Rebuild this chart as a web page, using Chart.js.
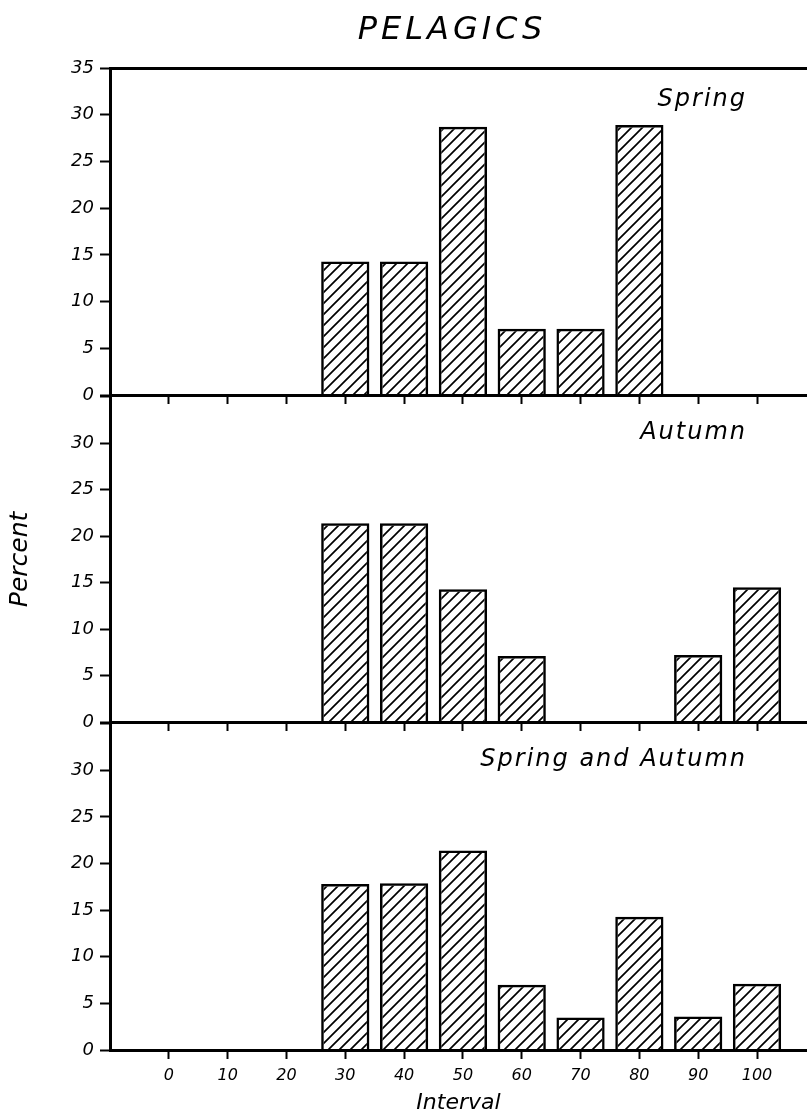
<!DOCTYPE html>
<html>
<head>
<meta charset="utf-8">
<script src="https://cdn.jsdelivr.net/npm/chart.js"></script>
<style>
  html, body { margin: 0; padding: 0; background: #fff; }
  #wrap { position: relative; width: 807px; height: 1119px; }
  canvas { position: absolute; left: 0; }
</style>
</head>
<body>
<div id="wrap">
  <canvas id="c1" width="807" height="415" style="top:0px"></canvas>
  <canvas id="c2" width="807" height="362" style="top:380px"></canvas>
  <canvas id="c3" width="807" height="412" style="top:707px"></canvas>
</div>
<script>
// interval classes (x) and percent per class for each panel
const intervals = [0, 10, 20, 30, 40, 50, 60, 70, 80, 90, 100];
const spring = [0, 0, 0, 14.3, 14.3, 28.7, 7.1, 7.1, 28.9, 0, 0];
const autumn = [0, 0, 0, 21.4, 21.4, 14.3, 7.1, 0, 0, 7.2, 14.5];
const springAutumn = [0, 0, 0, 17.8, 17.9, 21.4, 7.0, 3.5, 14.3, 3.6, 7.1];
const panelNames = ["Spring", "Autumn", "Spring and Autumn"];

const FONT = '"DejaVu Sans", sans-serif';

// diagonal hatch tile
function hatchTile() {
  const s = 11;
  const c = document.createElement("canvas");
  c.width = s; c.height = s;
  const g = c.getContext("2d");
  g.strokeStyle = "#000";
  g.lineWidth = 1.7;
  g.beginPath();
  g.moveTo(-1, s + 1); g.lineTo(s + 1, -1);
  g.moveTo(-1, 1); g.lineTo(1, -1);
  g.moveTo(s - 1, s + 1); g.lineTo(s + 1, s - 1);
  g.stroke();
  return c;
}
const tile = hatchTile();

const panelText = {
  id: "panelText",
  afterDraw(chart, args, o) {
    const { ctx, chartArea } = chart;
    ctx.save();
    ctx.fillStyle = "#000";
    ctx.font = "italic 24px " + FONT;
    ctx.letterSpacing = "2px";
    ctx.textAlign = "right";
    ctx.textBaseline = "alphabetic";
    ctx.fillText(o.text, chartArea.right - 60, chartArea.top + o.dy);
    if (o.title) {
      ctx.font = "italic 32px " + FONT;
      ctx.letterSpacing = "4px";
      ctx.textAlign = "center";
      ctx.textBaseline = "middle";
      ctx.fillText(o.title, 452, 31);
    }
    ctx.restore();
  }
};

function makeChart(id, values, o) {
  const ctx = document.getElementById(id).getContext("2d");
  return new Chart(ctx, {
    type: "bar",
    data: {
      datasets: [{
        data: intervals.map((x, i) => ({ x: x, y: values[i] })),
        backgroundColor: ctx.createPattern(tile, "repeat"),
        borderColor: "#000",
        borderWidth: 2.5,
        barPercentage: 1,
        categoryPercentage: 0.82
      }]
    },
    plugins: [panelText],
    options: {
      responsive: false,
      animation: false,
      devicePixelRatio: 1,
      layout: { padding: { top: o.padTop, left: 0, right: 0, bottom: 0 } },
      plugins: {
        legend: { display: false },
        tooltip: { enabled: false },
        panelText: { text: o.name, dy: o.dy, title: o.title }
      },
      scales: {
        x: {
          type: "linear",
          position: "bottom",
          min: -10,
          max: 108.5,
          offset: false,
          ticks: {
            stepSize: 10,
            includeBounds: false,
            display: o.xLabels,
            autoSkip: false,
            maxRotation: 0,
            padding: 7,
            color: "#000",
            font: { family: FONT, size: 16, style: "italic" },
            callback: (v) => (v < 0 ? "" : String(v))
          },
          grid: {
            offset: false, drawOnChartArea: false, drawTicks: true, tickLength: 9, tickWidth: 2,
            tickColor: (c) => (c.tick && c.tick.value < 0 ? "rgba(0,0,0,0)" : "#000")
          },
          border: { display: true, color: "#000", width: 3 },
          title: {
            display: !!o.xTitle,
            text: o.xTitle || "",
            color: "#000",
            font: { family: FONT, size: 22, style: "italic" },
            padding: { top: 2, bottom: 3 }
          },
          afterFit: (s) => { s.height = o.xHeight; }
        },
        xTop: {
          type: "linear",
          position: "top",
          display: o.topLine,
          min: -10,
          max: 108.5,
          ticks: { display: false },
          grid: { display: false, drawTicks: false },
          border: { display: true, color: "#000", width: 3 },
          afterFit: (s) => { s.height = 0; }
        },
        y: {
          min: 0,
          max: 35,
          ticks: {
            stepSize: 5,
            padding: 6,
            color: "#000",
            font: { family: FONT, size: 18, style: "italic" },
            callback: (v) => (v === 35 && !o.show35 ? "" : String(v))
          },
          grid: { drawOnChartArea: false, drawTicks: true, tickLength: 10, tickWidth: 2, tickColor: "#000" },
          border: { display: true, color: "#000", width: 3 },
          title: {
            display: !!o.yTitle,
            text: o.yTitle || "",
            color: "#000",
            font: { family: FONT, size: 25, style: "italic" },
            padding: { top: 5, bottom: 0 }
          },
          afterFit: (s) => { s.width = 110; }
        }
      }
    }
  });
}

makeChart("c1", spring, { padTop: 68, xHeight: 20, xLabels: false, topLine: true, show35: true, name: panelNames[0], dy: 38, title: "PELAGICS" });
makeChart("c2", autumn, { padTop: 15, xHeight: 20, xLabels: false, topLine: false, show35: false, name: panelNames[1], dy: 42, yTitle: "Percent" });
makeChart("c3", springAutumn, { padTop: 15, xHeight: 69, xLabels: true, topLine: false, show35: false, name: panelNames[2], dy: 42, xTitle: "Interval" });
</script>
</body>
</html>
